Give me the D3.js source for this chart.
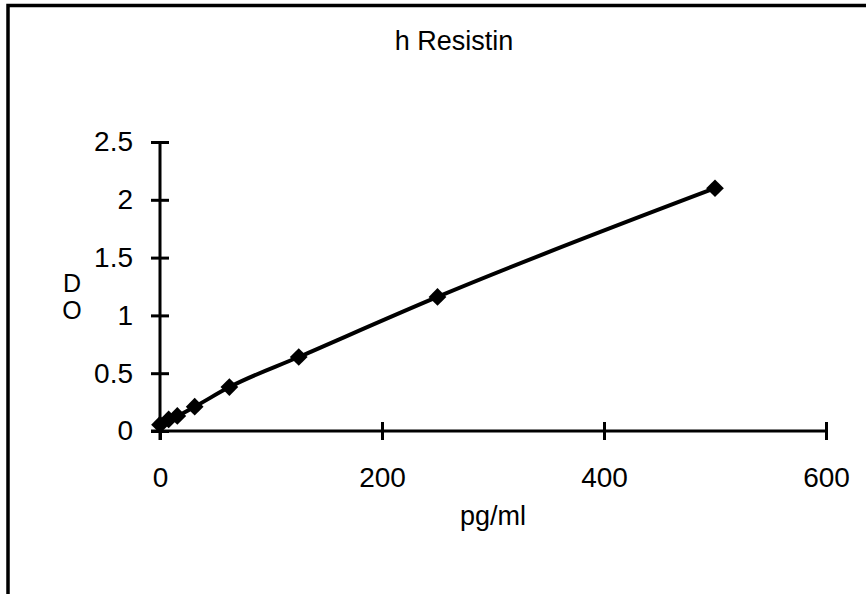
<!DOCTYPE html>
<html>
<head>
<meta charset="utf-8">
<script src="https://cdn.jsdelivr.net/npm/d3@7"></script>
<style>
  body { margin: 0; background: #fff; }
  text { font-family: "Liberation Sans", Arial, sans-serif; fill: #000; }
</style>
</head>
<body>
<div class="chart"></div>
<script>
const w = 866;
const h = 594;

// standard curve
const concentrations = [0, 7.8, 15.6, 31.25, 62.5, 125, 250, 500];
const odValues = [0.055, 0.1, 0.13, 0.21, 0.38, 0.64, 1.16, 2.1];
const xTicks = [0, 200, 400, 600];
const yTicks = [0, 0.5, 1, 1.5, 2, 2.5];

const svg = d3
  .select(".chart")
  .append("svg")
  .attr("width", w)
  .attr("height", h);

// frame, cut off at right and bottom like the original
svg
  .append("rect")
  .attr("x", 8)
  .attr("y", 5.5)
  .attr("width", w + 20)
  .attr("height", h + 20)
  .attr("fill", "none")
  .attr("stroke", "#000")
  .attr("stroke-width", 3.5);

const x = d3.scaleLinear().domain([0, 600]).range([160, 826]);
const y = d3.scaleLinear().domain([0, 2.5]).range([431, 142]);

//axes
const xAxis = svg
  .append("g")
  .attr("transform", `translate(0,${y(0)})`)
  .call(d3.axisBottom(x).tickValues(xTicks).tickFormat((d) => d).tickSize(9).tickSizeOuter(0).tickPadding(27));
xAxis.select(".domain").attr("d", `M${x(0) - 9},0H${x(600)}`);

const yAxis = svg
  .append("g")
  .attr("transform", `translate(${x(0)},0)`)
  .call(d3.axisLeft(y).tickValues(yTicks).tickFormat((d) => d).tickSize(9).tickSizeOuter(0).tickPadding(16));
yAxis.select(".domain").attr("d", `M0,${y(2.5)}V${y(0) + 9}`);

[xAxis, yAxis].forEach((g) => {
  g.select(".domain").attr("stroke", "#000").attr("stroke-width", 3);
  g.selectAll(".tick line").attr("stroke", "#000").attr("stroke-width", 3);
  g.selectAll(".tick text")
    .style("font-size", "28px")
    .attr("fill", "#000");
});
// ticks cross the axis line
xAxis.selectAll(".tick line").attr("y1", -9).attr("y2", 9);
yAxis.selectAll(".tick line").attr("x1", -9).attr("x2", 9);
yAxis.selectAll(".tick text").attr("x", -27);

const points = concentrations.map((c, i) => [c, odValues[i]]);

svg
  .append("path")
  .datum(points)
  .attr("fill", "none")
  .attr("stroke", "#000")
  .attr("stroke-width", 4)
  .attr("d", d3.line().x((d) => x(d[0])).y((d) => y(d[1])).curve(d3.curveMonotoneX));

svg
  .selectAll(".pt")
  .data(points)
  .enter()
  .append("path")
  .attr("class", "pt")
  .attr("transform", (d) => `translate(${x(d[0])},${y(d[1])})`)
  .attr("d", d3.symbol().type(d3.symbolDiamond2).size(200))
  .attr("fill", "#000");

//title and labels
svg
  .append("text")
  .attr("x", 454)
  .attr("y", 50)
  .attr("text-anchor", "middle")
  .style("font-size", "27px")
  .text("h Resistin");

svg
  .append("text")
  .attr("x", 493)
  .attr("y", 525)
  .attr("text-anchor", "middle")
  .style("font-size", "27px")
  .text("pg/ml");

const yLabel = svg
  .append("text")
  .attr("text-anchor", "middle")
  .style("font-size", "25px");
yLabel.append("tspan").attr("x", 72).attr("y", 292).text("D");
yLabel.append("tspan").attr("x", 72).attr("y", 319).text("O");
</script>
</body>
</html>
